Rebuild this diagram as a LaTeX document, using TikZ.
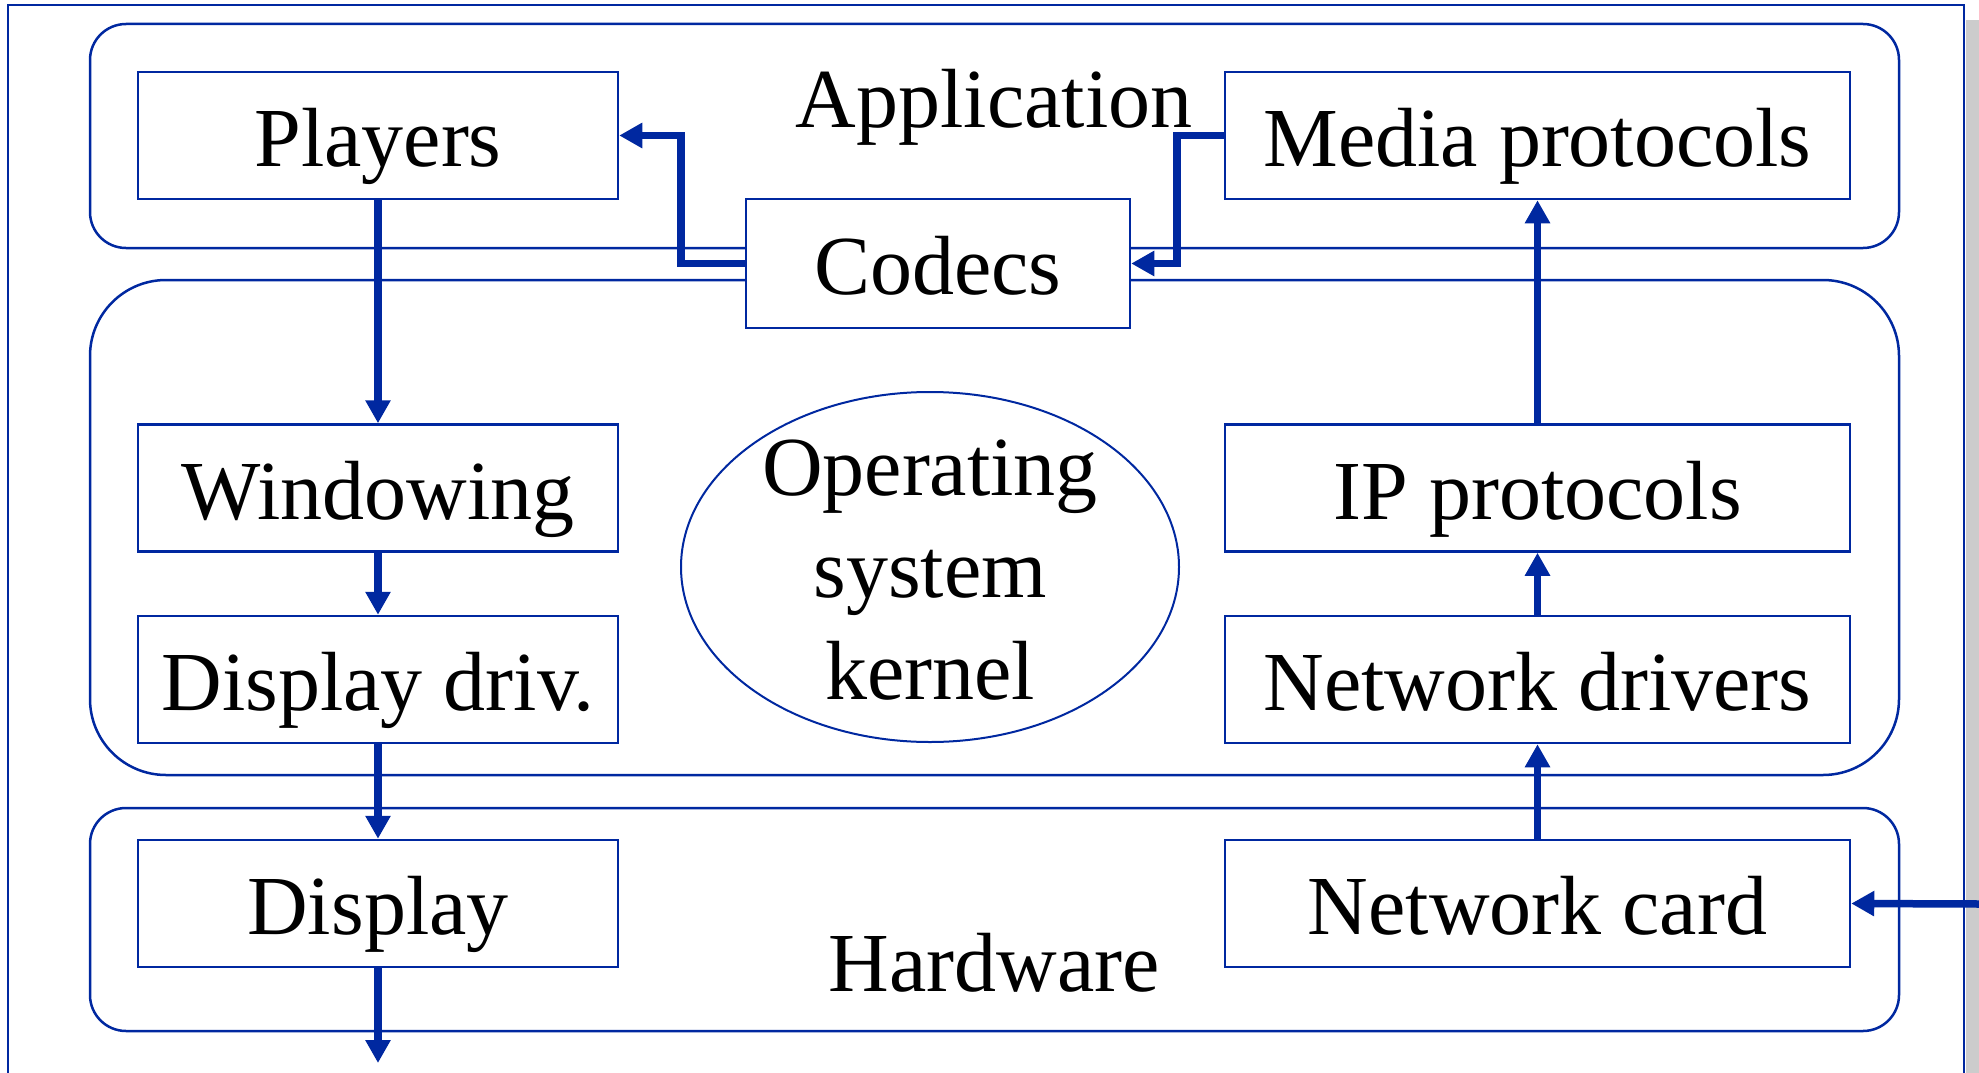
\documentclass[tikz,border=0pt]{standalone}
\usepackage{fontspec}
\setmainfont{Liberation Serif}
\usetikzlibrary{arrows.meta,shapes.geometric}
\definecolor{dblue}{HTML}{0028A0}
\begin{document}
\begin{tikzpicture}[x=1pt,y=-1pt,
  bigfont/.style={font=\fontsize{84}{102}\selectfont},
  box/.style={draw=dblue, line width=2.5pt, fill=white, rectangle, inner sep=0pt,
    minimum height=127pt, text height=62pt, text depth=0pt, bigfont},
  leftbox/.style={box, minimum width=480pt},
  rightbox/.style={box, minimum width=625pt},
  layer/.style={draw=dblue, line width=2.5pt},
  arr/.style={draw=dblue, line width=7.5pt, -{Triangle[length=23pt,width=24pt]}},
  lbl/.style={bigfont, inner sep=0pt, anchor=base}
]
\useasboundingbox (0,0) rectangle (1979,1073);
\fill[white] (0,0) rectangle (1979,1073);
% frame and shadow
\fill[gray!40] (1966,20) rectangle (1979,1073);
\draw[layer] (8,1073) -- (8,5) -- (1964,5) -- (1964,1073);
% layers
\draw[layer, rounded corners=36pt] (90,24) rectangle (1899,248);
\draw[layer, rounded corners=76pt] (90,280) rectangle (1899,775);
\draw[layer, rounded corners=36pt] (90,808) rectangle (1899,1031);
\node[lbl] (applbl) at (994,128) {Application};
\node[lbl] (hwlbl) at (994,991) {Hardware};
% boxes
\node[leftbox] (players) at (378,135.5) {Players};
\node[rightbox] (media) at (1537.5,135.5) {Media protocols};
\node[box, minimum width=384pt, minimum height=129pt] (codecs) at (938,263.5) {Codecs};
\node[leftbox] (windowing) at (378,488) {Windowing};
\node[leftbox] (dispdriv) at (378,679.5) {Display driv.};
\node[leftbox] (display) at (378,903.5) {Display};
\node[rightbox] (ip) at (1537.5,488) {IP protocols};
\node[rightbox] (netdrv) at (1537.5,679.5) {Network drivers};
\node[rightbox] (netcard) at (1537.5,903.5) {Network card};
\node[draw=dblue, line width=2pt, ellipse, minimum width=498pt, minimum height=350pt, inner sep=0pt] (os) at (930,567) {};
\node[bigfont, align=center, inner sep=0pt] (ostext) at ([yshift=-3pt]os.center) {Operating\\system\\kernel};
% connectors
\coordinate (dispout) at (378,1063);
\coordinate (netin) at (1979,904);
\draw[arr] (codecs.west) -- ++(-64,0) |- (players.east);
\draw[arr] (media.west) -- ++(-47,0) |- (codecs.east);
\draw[arr] (players.south) -- (windowing.north);
\draw[arr] (windowing.south) -- (dispdriv.north);
\draw[arr] (dispdriv.south) -- (display.north);
\draw[arr] (display.south) -- (dispout);
\draw[arr] (netin) -- (netcard.east);
\draw[arr] (netcard.north) -- (netdrv.south);
\draw[arr] (netdrv.north) -- (ip.south);
\draw[arr] (ip.north) -- (media.south);
\end{tikzpicture}
\end{document}
